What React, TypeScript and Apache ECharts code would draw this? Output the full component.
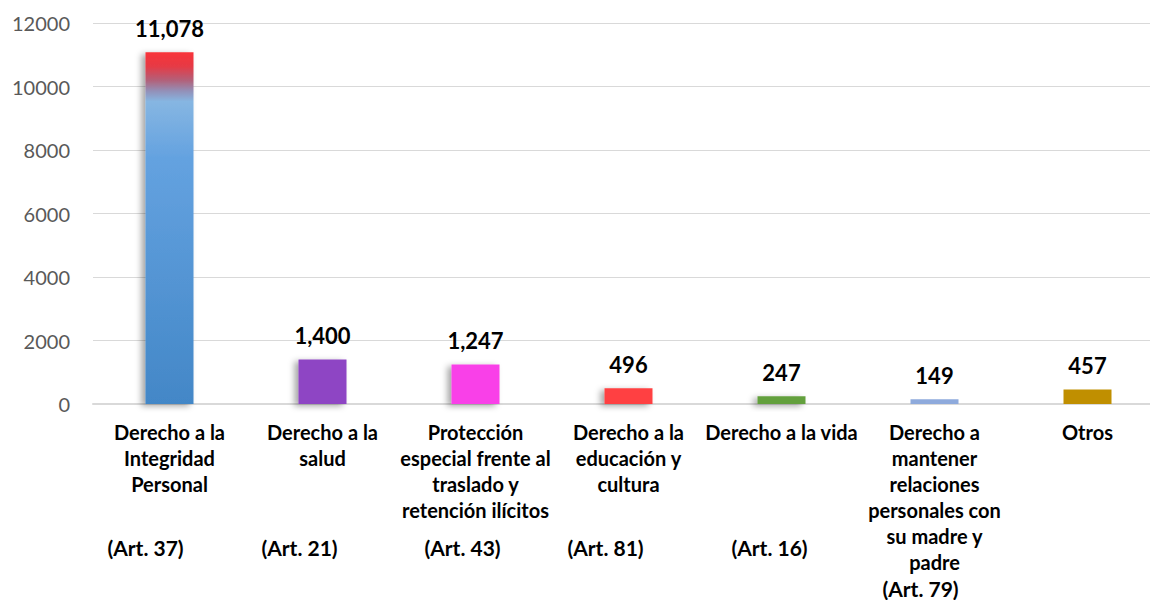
import React, { useEffect, useRef } from "react";
import * as echarts from "echarts";

const categories: string[] = [
  "Derecho a la\nIntegridad\nPersonal",
  "Derecho a la\nsalud",
  "Protección\nespecial frente al\ntraslado y\nretención ilícitos",
  "Derecho a la\neducación y\ncultura",
  "Derecho a la vida",
  "Derecho a\nmantener\nrelaciones\npersonales con\nsu madre y\npadre",
  "Otros",
];
const articles: string[] = ["(Art. 37)", "(Art. 21)", "(Art. 43)", "(Art. 81)", "(Art. 16)", "(Art. 79)", ""];
const artShift: number[] = [24, 23, 13, 23, 12, 14, 0];
const values: number[] = [11078, 1400, 1247, 496, 247, 149, 457];
const barColors: string[] = ["gradient", "#8e45c4", "#f940e8", "#ff4042", "#64a03e", "#8eaadc", "#c08f00"];
const yTicks = { min: 0, max: 12000, interval: 2000 };

const FONT = "Lato, 'Open Sans', sans-serif";

export default function App() {
  const ref = useRef<HTMLDivElement>(null);
  useEffect(() => {
    if (!ref.current) return;
    const chart = echarts.init(ref.current, undefined, { renderer: "svg" });
    const rich: Record<string, any> = {};
    categories.forEach((c, i) => {
      const n = c.split("\n").length;
      rich["a" + i] = {
        fontFamily: FONT,
        fontWeight: "bold",
        fontSize: 21,
        color: "#000",
        lineHeight: n > 4 ? 26 : 48,
        padding: [0, artShift[i] * 2, 0, 0],
      };
    });
    const data = values.map((v, i) => {
      const color =
        barColors[i] === "gradient"
          ? new echarts.graphic.LinearGradient(0, 0, 0, 1, [
              { offset: 0, color: "#f8333a" },
              { offset: 0.04, color: "#e63a45" },
              { offset: 0.08, color: "#b2617a" },
              { offset: 0.11, color: "#9390b8" },
              { offset: 0.14, color: "#86b6e2" },
              { offset: 0.3, color: "#64a2e0" },
              { offset: 1, color: "#4387c7" },
            ])
          : barColors[i];
      const shadow = i < 5;
      return {
        value: v,
        itemStyle: {
          color,
          shadowColor: shadow ? "rgba(0,0,0,0.35)" : "transparent",
          shadowBlur: shadow ? 6 : 0,
          shadowOffsetX: shadow ? -4 : 0,
          shadowOffsetY: shadow ? 2 : 0,
        },
      };
    });
    chart.setOption({
      animation: false,
      backgroundColor: "#ffffff",
      grid: { left: 93, width: 1071, top: 23, bottom: 196, containLabel: false, outerBoundsMode: "none" },
      xAxis: {
        type: "category",
        data: categories,
        axisTick: { show: false },
        axisLine: { lineStyle: { color: "#d9d9d9", width: 2 } },
        axisLabel: {
          interval: 0,
          margin: 15,
          fontFamily: FONT,
          fontWeight: "bold",
          fontSize: 20,
          color: "#000",
          lineHeight: 26,
          align: "center",
          verticalAlign: "top",
          formatter: (val: string, idx: number) => {
            const art = articles[idx];
            if (!art) return val;
            const n = val.split("\n").length;
            let s = val;
            for (let k = n; k < 4; k++) s += "\n";
            return s + "\n{a" + idx + "|" + art + "}";
          },
          rich,
        },
      },
      yAxis: {
        type: "value",
        min: yTicks.min,
        max: yTicks.max,
        interval: yTicks.interval,
        axisLine: { show: false },
        axisTick: { show: false },
        splitLine: { lineStyle: { color: "#d9d9d9", width: 1 } },
        axisLabel: {
          margin: 23,
          fontFamily: FONT,
          fontSize: 20,
          color: "#595959",
          formatter: (v: number) => String(v),
        },
      },
      series: [
        {
          type: "bar",
          data,
          barWidth: 48,
          label: {
            show: true,
            position: "top",
            distance: 13,
            fontFamily: FONT,
            fontWeight: "bold",
            fontSize: 22,
            color: "#000",
            formatter: (p: any) => Number(p.value).toLocaleString("en-US"),
          },
        },
      ],
    });
    return () => chart.dispose();
  }, []);
  return <div ref={ref} style={{ width: 1150, height: 600, position: "absolute", left: 0, top: 0 }} />;
}
